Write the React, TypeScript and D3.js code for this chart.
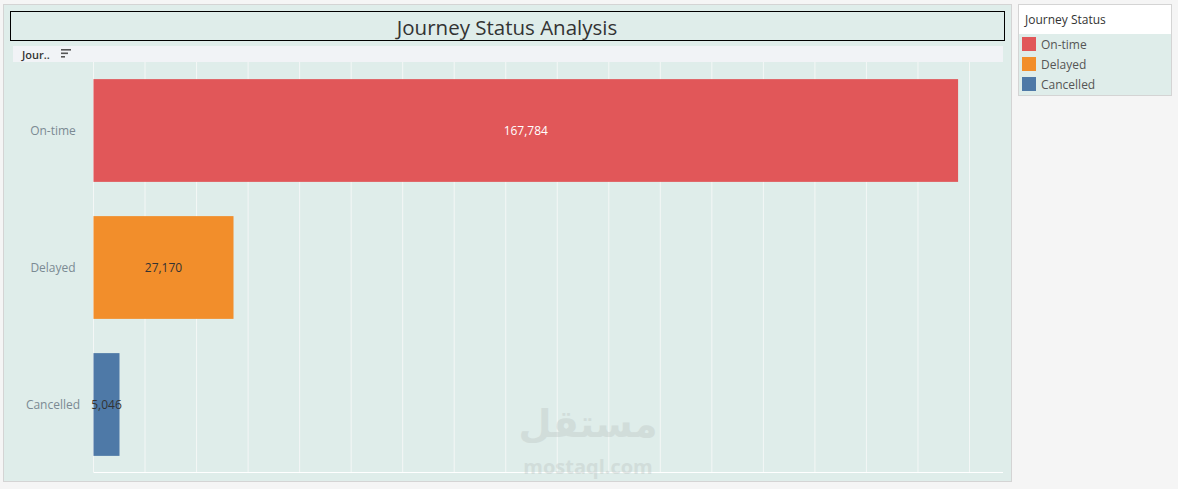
import React from "react";
import * as d3 from "d3";

const categories = ["On-time", "Delayed", "Cancelled"];
const values = [167784, 27170, 5046];
const colors = ["#e15759", "#f28e2b", "#4e79a7"];
const labelColors = ["#ffffff", "#333333", "#333333"];
const gridTicks = d3.range(0, 170001, 10000);

const W = 1178;
const H = 489;
const FONT = "'Open Sans', 'Noto Sans', sans-serif";

export default function App() {
  const x = d3.scaleLinear().domain([0, 176500]).range([93.5, 1003]);
  const y = d3.scaleBand<string>().domain(categories).range([62, 473]).paddingInner(0.25).paddingOuter(0.125);
  const fmt = d3.format(",");

  return (
    <svg width={W} height={H} style={{ position: "absolute", left: 0, top: 0, fontFamily: FONT }}>
      <rect x={0} y={0} width={W} height={H} fill="#f5f5f5" />
      {/* main panel */}
      <rect x={3.5} y={4.5} width={1008} height={477} fill="#dfedea" stroke="#d4d4d4" />
      {/* title box */}
      <rect x={10.5} y={11.5} width={994} height={29} fill="#dfedea" stroke="#000" strokeWidth={1} />
      <text x={507} y={27} textAnchor="middle" dominantBaseline="central" fontSize={20.5} fill="#333">
        Journey Status Analysis
      </text>
      {/* header strip */}
      <rect x={13} y={46} width={990} height={16} fill="#f1f3f6" />
      <text x={22} y={54} dominantBaseline="central" fontSize={11} fontWeight={600} fill="#333">Jour..</text>
      <g fill="#555">
        <rect x={61} y={49} width={10} height={1.6} />
        <rect x={61} y={52.5} width={7} height={1.6} />
        <rect x={61} y={56} width={4} height={1.6} />
      </g>
      {/* gridlines */}
      {gridTicks.map((t) => (
        <line key={t} x1={x(t)} x2={x(t)} y1={62} y2={472} stroke="#f4f7f6" strokeWidth={1} />
      ))}
      <line x1={93.5} x2={1003} y1={472.5} y2={472.5} stroke="#ffffff" strokeWidth={1} />
      {/* bars */}
      {categories.map((c, i) => {
        const y0 = y(c)!;
        const bw = y.bandwidth();
        const x0 = x(0);
        const x1 = x(values[i]);
        return (
          <g key={c}>
            <rect x={x0} y={y0} width={x1 - x0} height={bw} fill={colors[i]} />
            <text x={(x0 + x1) / 2} y={y0 + bw / 2} textAnchor="middle" dominantBaseline="central" fontSize={12} fill={labelColors[i]}>
              {fmt(values[i])}
            </text>
            <text x={53} y={y0 + bw / 2} textAnchor="middle" dominantBaseline="central" fontSize={12} fill="#7b8a93">
              {c}
            </text>
          </g>
        );
      })}
      {/* watermark */}
      <g opacity={0.35} fill="#b8c0be" textAnchor="middle">
        <text x={588} y={437} fontSize={38} fontWeight={700} style={{ fontFamily: "'DejaVu Sans', sans-serif" }}>مستقل</text>
        <text x={588} y={474} fontSize={20} fontWeight={700}>mostaql.com</text>
      </g>
      {/* legend */}
      <rect x={1018.5} y={4.5} width={153} height={91} fill="#dfedea" stroke="#d4d4d4" />
      <rect x={1019} y={5} width={152} height={29} fill="#ffffff" />
      <text x={1025} y={19.5} dominantBaseline="central" fontSize={12} fill="#333">Journey Status</text>
      {categories.map((c, i) => (
        <g key={c}>
          <rect x={1022} y={37 + i * 20} width={14} height={14} fill={colors[i]} />
          <text x={1041} y={44.5 + i * 20} dominantBaseline="central" fontSize={12} fill="#555">{c}</text>
        </g>
      ))}
    </svg>
  );
}
